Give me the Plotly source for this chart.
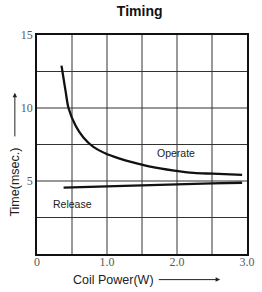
import plotly.graph_objects as go

operate_x = [0.35, 0.41, 0.45, 0.55, 0.66, 0.80, 0.98, 1.17, 1.37, 1.60, 1.96, 2.24, 2.51, 2.93]
operate_y = [12.9, 11.1, 10.0, 8.8, 8.0, 7.35, 6.88, 6.55, 6.27, 6.0, 5.71, 5.55, 5.5, 5.42]
release_x = [0.38, 1.0, 1.5, 2.0, 2.5, 2.93]
release_y = [4.55, 4.63, 4.7, 4.77, 4.84, 4.88]

x_ticks = [0, 1.0, 2.0, 3.0]
x_tick_text = ["0", "1.0", "2.0", "3.0"]
y_ticks = [5, 10, 15]
y_tick_text = ["5", "10", "15"]

fig = go.Figure()
fig.add_trace(go.Scatter(x=operate_x, y=operate_y, mode="lines",
                         line=dict(color="#111", width=2.3, shape="spline", smoothing=0.8),
                         showlegend=False))
fig.add_trace(go.Scatter(x=release_x, y=release_y, mode="lines",
                         line=dict(color="#111", width=2.3, shape="spline", smoothing=0.8),
                         showlegend=False))

for gx in [0.5, 1.0, 1.5, 2.0, 2.5]:
    fig.add_shape(type="line", x0=gx, x1=gx, y0=0, y1=15,
                  line=dict(color="#555", width=1.2), layer="below")
for gy in [2.5, 5, 7.5, 10, 12.5]:
    fig.add_shape(type="line", x0=0, x1=3, y0=gy, y1=gy,
                  line=dict(color="#333", width=1.2), layer="below")

lab_font = dict(family="Liberation Sans", size=10.5, color="#222")
fig.add_annotation(x=1.99, y=6.92, text="Operate", showarrow=False, font=lab_font)
fig.add_annotation(x=0.50, y=3.4, text="Release", showarrow=False, font=lab_font)

# axis titles with arrows
title_font = dict(family="Liberation Sans", size=12.5, color="#222")
fig.add_annotation(xref="x domain", yref="y domain", x=-0.1055, y=0.736, ax=-0.1055, ay=0.530,
                   axref="x domain", ayref="y domain", text="", showarrow=True,
                   arrowhead=2, arrowsize=0.9, arrowwidth=1, arrowcolor="#222")
fig.add_annotation(xref="x domain", yref="y domain", x=0.872, y=-0.117, ax=0.573, ay=-0.117,
                   axref="x domain", ayref="y domain", text="", showarrow=True,
                   arrowhead=2, arrowsize=0.9, arrowwidth=1, arrowcolor="#222")
fig.add_annotation(xref="paper", yref="paper", x=0.362, y=-0.117, text="Coil Power(W)",
                   xanchor="center", yanchor="middle", showarrow=False, font=title_font)
fig.add_annotation(xref="paper", yref="paper", x=-0.1055, y=0.330, text="Time(msec.)",
                   xanchor="center", yanchor="middle",
                   textangle=-90, showarrow=False, font=title_font)

tick_font = dict(family="Liberation Serif", size=12, color="#5a5a5a")
fig.update_layout(
    width=262, height=292,
    margin=dict(l=37, r=7, t=35, b=38),
    paper_bgcolor="white", plot_bgcolor="white",
    title=dict(text="<b>Timing</b>", xref="paper", x=0.489, xanchor="center",
               y=0.962, yanchor="middle",
               font=dict(family="Liberation Sans", size=14, color="#111")),
    xaxis=dict(range=[0, 3], tickvals=x_ticks, ticktext=x_tick_text, showgrid=False,
               zeroline=False, showline=True, mirror=True, linecolor="#111", linewidth=1.5,
               ticks="", tickfont=tick_font, ticklabelstandoff=-4),
    yaxis=dict(range=[0, 15], tickvals=y_ticks, ticktext=y_tick_text, showgrid=False,
               zeroline=False, showline=True, mirror=True, linecolor="#111", linewidth=1.5,
               ticks="", tickfont=tick_font),
)

fig.write_html("out.html", config={"displayModeBar": False},
               post_script="document.body.style.margin='0';")
